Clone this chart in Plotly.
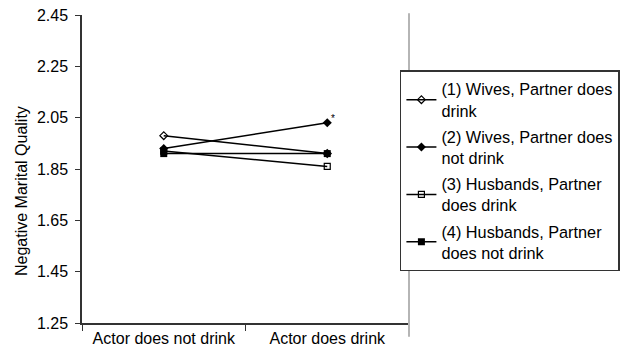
import plotly.graph_objects as go

categories = ["Actor does not drink", "Actor does drink"]
series_names = [
    "(1) Wives, Partner does<br>drink",
    "(2) Wives, Partner does<br>not drink",
    "(3) Husbands, Partner<br>does drink",
    "(4) Husbands, Partner<br>does not drink",
]
s1 = [1.98, 1.91]
s2 = [1.93, 2.03]
s3 = [1.92, 1.86]
s4 = [1.91, 1.91]
y_ticks = [1.25, 1.45, 1.65, 1.85, 2.05, 2.25, 2.45]
y_title = "Negative Marital Quality"

markers = [
    dict(symbol="diamond-open", size=6, color="black", line=dict(width=1.2, color="black")),
    dict(symbol="diamond", size=7, color="black"),
    dict(symbol="square-open", size=6, color="black", line=dict(width=1.2, color="black")),
    dict(symbol="square", size=7, color="black"),
]

fig = go.Figure()
for i, (name, vals, mk) in enumerate(zip(series_names, [s1, s2, s3, s4], markers)):
    fig.add_trace(go.Scatter(
        x=categories, y=vals, name=name, mode="lines+markers", legendgroup=f"g{i}",
        line=dict(color="black", width=1.5), marker=mk,
    ))

# significance marker next to series 2
fig.add_annotation(x=categories[1], y=s2[1], text="*", showarrow=False,
                   xshift=6, yshift=4, font=dict(size=10, color="black"))

# y-axis title (placed like the original, slightly below the plot centre)
fig.add_annotation(xref="paper", yref="paper", x=-0.1835, y=0.4286, text=y_title,
                   textangle=-90, showarrow=False, xanchor="center", yanchor="middle",
                   font=dict(size=16))

fig.add_shape(type="line", xref="paper", yref="paper", x0=1.0, x1=1.0,
              y0=-0.045, y1=1.006, line=dict(color="#b5b5b5", width=2))

font_family = "Liberation Sans, Arial, sans-serif"
fig.update_layout(
    width=622, height=352,
    margin=dict(l=82, r=213, t=15, b=29, autoexpand=False),
    paper_bgcolor="white", plot_bgcolor="white",
    font=dict(family=font_family, color="black", size=16),
    showlegend=True,
    legend=dict(
        x=1.645, y=0.82, xanchor="right", yanchor="top",
        bordercolor="#333333", borderwidth=1.5,
        font=dict(size=16.3, family=font_family),
        tracegroupgap=2, itemwidth=30,
    ),
    xaxis=dict(
        type="category", range=[-0.5, 1.5],
        showline=True, linecolor="#333333", linewidth=1.5,
        ticks="outside", tickson="boundaries", ticklen=6, tickcolor="#333333",
        tickfont=dict(size=16), tickangle=0, showgrid=False, zeroline=False,
    ),
    yaxis=dict(
        range=[1.25, 2.45], tickvals=y_ticks, ticktext=[f"{v:.2f}" for v in y_ticks],
        showline=True, linecolor="#333333", linewidth=1.5,
        ticks="outside", ticklen=5, tickcolor="#333333", ticklabelstandoff=4,
        tickfont=dict(size=16), showgrid=False, zeroline=False,
    ),
)

fig.write_html("out.html", config={"displayModeBar": False},
               post_script="document.body.style.margin='0px';")
